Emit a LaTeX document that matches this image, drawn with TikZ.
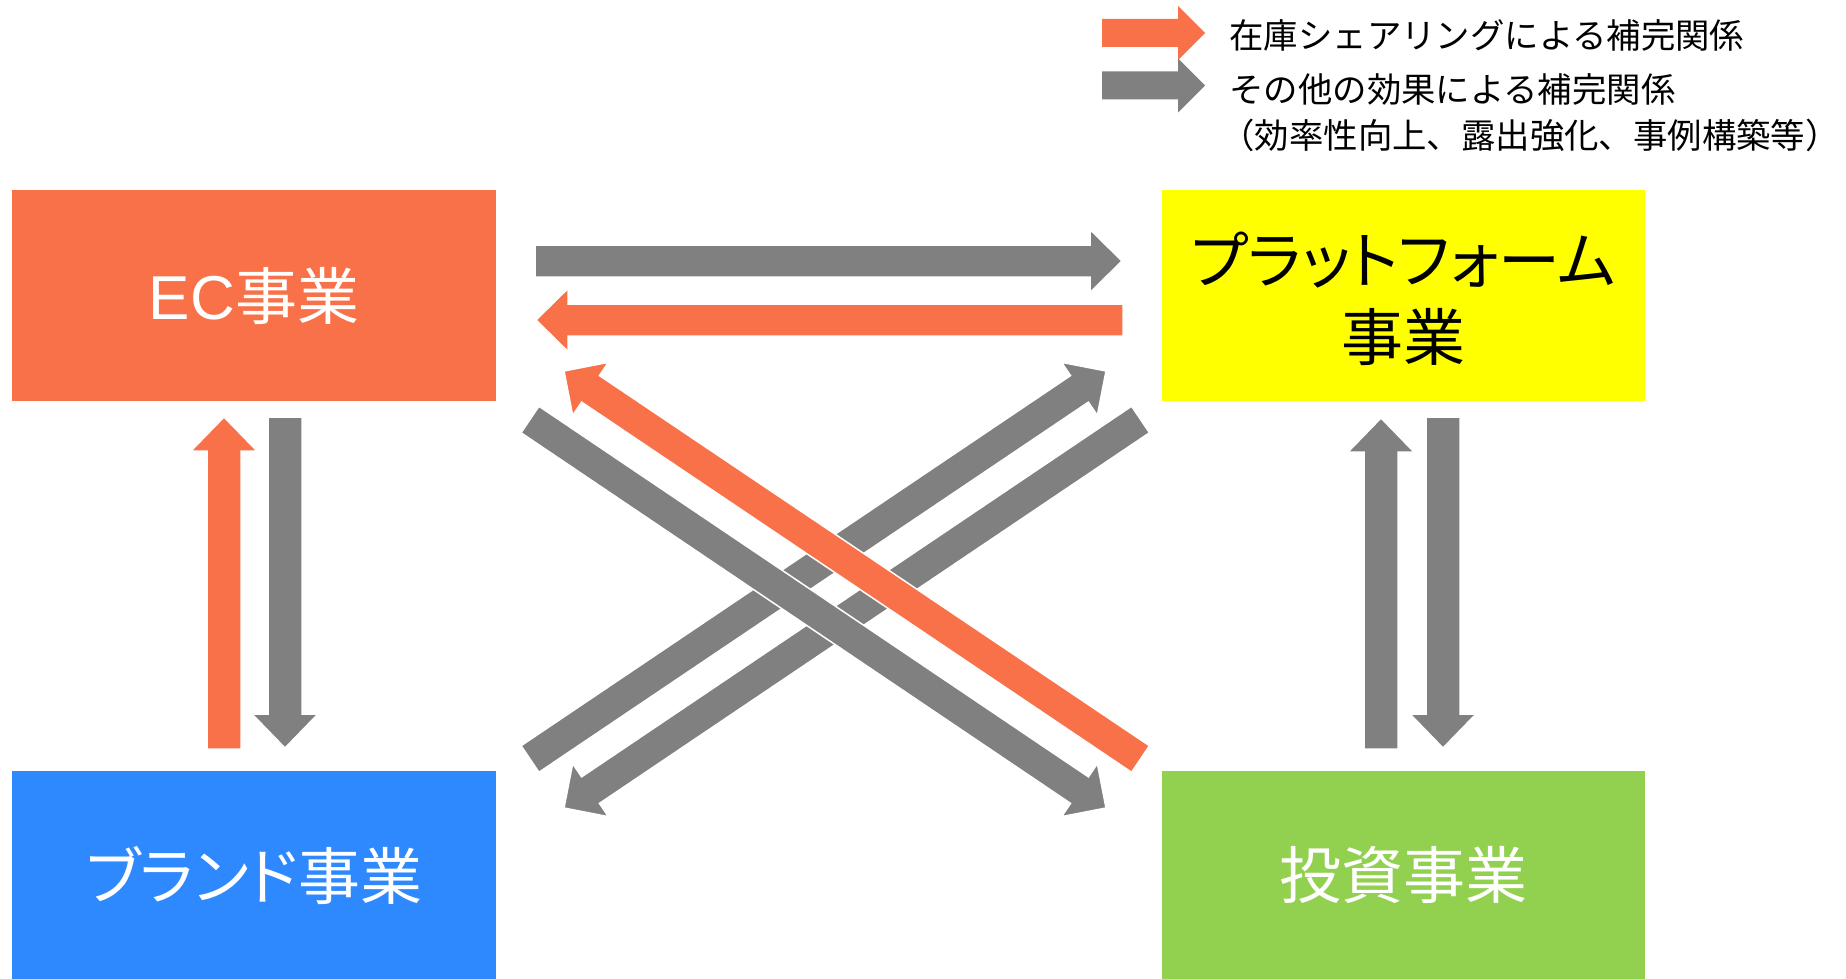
\documentclass[tikz,border=0pt]{standalone}
\usepackage{fontspec}
\setmainfont{Noto Sans CJK JP}
\newfontfamily\boxfont[RawFeature=+palt]{Noto Sans CJK JP}
\newfontfamily\latfont{Liberation Sans}
\usetikzlibrary{calc}
\definecolor{ecorange}{HTML}{F87148}
\definecolor{pfyellow}{HTML}{FFFF00}
\definecolor{brblue}{HTML}{2E89FF}
\definecolor{ivgreen}{HTML}{92D050}
\definecolor{arrgray}{HTML}{808080}
% block arrow: style, from, to, half shaft, half head, head length
\newcommand\blockarrow[6]{%
  \coordinate (hb) at ($(#3)!#6!(#2)$);
  \filldraw[#1] ($(#2)!#4!90:(#3)$) -- ($(hb)!#4!90:(#3)$) -- ($(hb)!#5!90:(#3)$) -- (#3)
    -- ($(hb)!#5!-90:(#3)$) -- ($(hb)!#4!-90:(#3)$) -- ($(#2)!#4!-90:(#3)$) -- cycle;}
\tikzset{
  orangearrow/.style={fill=ecorange, draw=white, line width=0.75pt},
  grayarrow/.style={fill=arrgray, draw=white, line width=0.75pt},
  plainorange/.style={fill=ecorange, draw=none},
  plaingray/.style={fill=arrgray, draw=none},
  bizbox/.style={rectangle, inner sep=0pt, draw=none, align=center,
    font=\boxfont\fontsize{31pt}{38.5pt}\selectfont},
  legendtext/.style={anchor=west, inner sep=0pt, font=\fontsize{17.2pt}{20pt}\selectfont},
}
\begin{document}
\begin{tikzpicture}[x=0.5pt, y=-0.5pt]
\useasboundingbox[fill=white] (0,0) rectangle (1846,979);
% boxes
\node[bizbox, fill=ecorange, text=white, minimum width=242pt, minimum height=105.5pt] (ec) at (254,295.5) {{\latfont EC}事業};
\node[bizbox, fill=pfyellow, minimum width=241.5pt, minimum height=105.5pt] (pf) at (1403.5,295.5) {};
\node[bizbox, text=black] (pft) at (1403.5,298.5) {プラットフォーム\\事業};
\node[bizbox, fill=brblue, text=white, minimum width=242pt, minimum height=104pt] (br) at (254,875) {ブランド事業};
\node[bizbox, fill=ivgreen, text=white, minimum width=241.5pt, minimum height=104pt] (iv) at (1403.5,875) {投資事業};
% arrow end points
\coordinate (h1s) at (535,261);   \coordinate (h1e) at (1122,261);
\coordinate (h2s) at (1123,320);  \coordinate (h2e) at (536,320);
\coordinate (v1s) at (224,749);   \coordinate (v1e) at (224,417);
\coordinate (v2s) at (285,417);   \coordinate (v2e) at (285,748);
\coordinate (v3s) at (1381,749);  \coordinate (v3e) at (1381,418);
\coordinate (v4s) at (1443,417);  \coordinate (v4e) at (1443,748);
\coordinate (dAs) at (530,419.5); \coordinate (dAe) at (1106,808);
\coordinate (dOs) at (1140.5,759);\coordinate (dOe) at (564,371);
\coordinate (dCs) at (530,759);   \coordinate (dCe) at (1106,371);
\coordinate (dDs) at (1140.5,419.5); \coordinate (dDe) at (564,808);
% horizontal
\blockarrow{grayarrow}{h1s}{h1e}{8pt}{15.75pt}{16pt}
\blockarrow{orangearrow}{h2s}{h2e}{8pt}{15.75pt}{16pt}
% vertical
\blockarrow{orangearrow}{v1s}{v1e}{8.5pt}{16.5pt}{17pt}
\blockarrow{grayarrow}{v2s}{v2e}{8.5pt}{16.5pt}{17pt}
\blockarrow{grayarrow}{v3s}{v3e}{8.5pt}{16.5pt}{17pt}
\blockarrow{grayarrow}{v4s}{v4e}{8.5pt}{16.5pt}{17pt}
% diagonal
\blockarrow{grayarrow}{dCs}{dCe}{8pt}{16pt}{16pt}
\blockarrow{grayarrow}{dDs}{dDe}{8pt}{16pt}{16pt}
\blockarrow{grayarrow}{dAs}{dAe}{8pt}{16pt}{16pt}
\blockarrow{orangearrow}{dOs}{dOe}{8pt}{16pt}{16pt}
% legend
\coordinate (l1s) at (1102,33);  \coordinate (l1e) at (1205,33);
\coordinate (l2s) at (1102,85.5);\coordinate (l2e) at (1205,85.5);
\blockarrow{plainorange}{l1s}{l1e}{7pt}{13.5pt}{13.5pt}
\blockarrow{plaingray}{l2s}{l2e}{7pt}{13.5pt}{13.5pt}
\node[legendtext] (lt1) at (1229,35) {在庫シェアリングによる補完関係};
\node[legendtext] (lt2) at (1229,89) {その他の効果による補完関係};
\node[legendtext] (lt3) at (1220,135) {（効率性向上、露出強化、事例構築等）};
\end{tikzpicture}
\end{document}
